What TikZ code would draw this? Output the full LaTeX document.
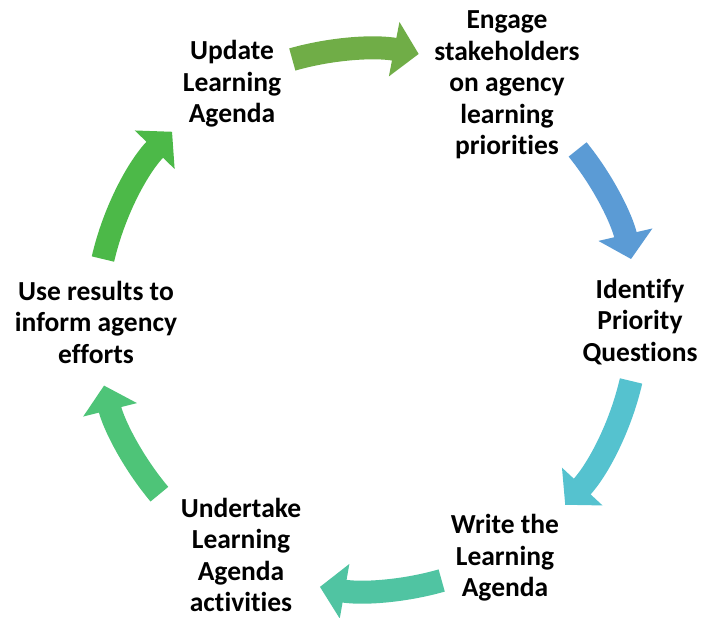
\documentclass[tikz,border=0pt]{standalone}
\usepackage{fontspec}
\setmainfont{Carlito}[Ligatures=NoCommon]
\usetikzlibrary{arrows.meta}
\definecolor{cycA}{HTML}{70AD47}
\definecolor{cycB}{HTML}{5B9BD5}
\definecolor{cycC}{HTML}{55C2CF}
\definecolor{cycD}{HTML}{50C4A2}
\definecolor{cycE}{HTML}{4EC478}
\definecolor{cycF}{HTML}{4CB948}
\tikzset{
  stage/.style={align=center,inner sep=0pt,font=\fontsize{27.5}{31.5}\selectfont\bfseries},
  cyc/.style={draw=#1,line width=23pt,-{Triangle[width=54pt,length=25pt]}}
}
\begin{document}
\begin{tikzpicture}[x=1pt,y=1pt]
\useasboundingbox(-367,-298)rectangle(335,320);
%stages
\node[stage](upd)at(-135,236){Update\\Learning\\Agenda};
\node[stage](eng)at(140,235){Engage\\stakeholders\\on agency\\learning\\priorities};
\node[stage](idf)at(273,-2){Identify\\Priority\\Questions};
\node[stage](wrt)at(138,-238){Write the\\Learning\\Agenda};
\node[stage](und)at(-126,-235){Undertake\\Learning\\Agenda\\activities};
\node[stage](use)at(-271,-2){Use results to\\inform agency\\efforts};
%arrows
\draw[cyc=cycA](106:271pt)arc[start angle=106,end angle=79,radius=271pt];
\draw[cyc=cycB](39:271pt)arc[start angle=39,end angle=13,radius=271pt];
\draw[cyc=cycC](-13:271pt)arc[start angle=-13,end angle=-43,radius=271pt];
\draw[cyc=cycD](-74:271pt)arc[start angle=-74,end angle=-100,radius=271pt];
\draw[cyc=cycE](-140:271pt)arc[start angle=-140,end angle=-166,radius=271pt];
\draw[cyc=cycF](167:271pt)arc[start angle=167,end angle=136,radius=271pt];
\end{tikzpicture}
\end{document}
